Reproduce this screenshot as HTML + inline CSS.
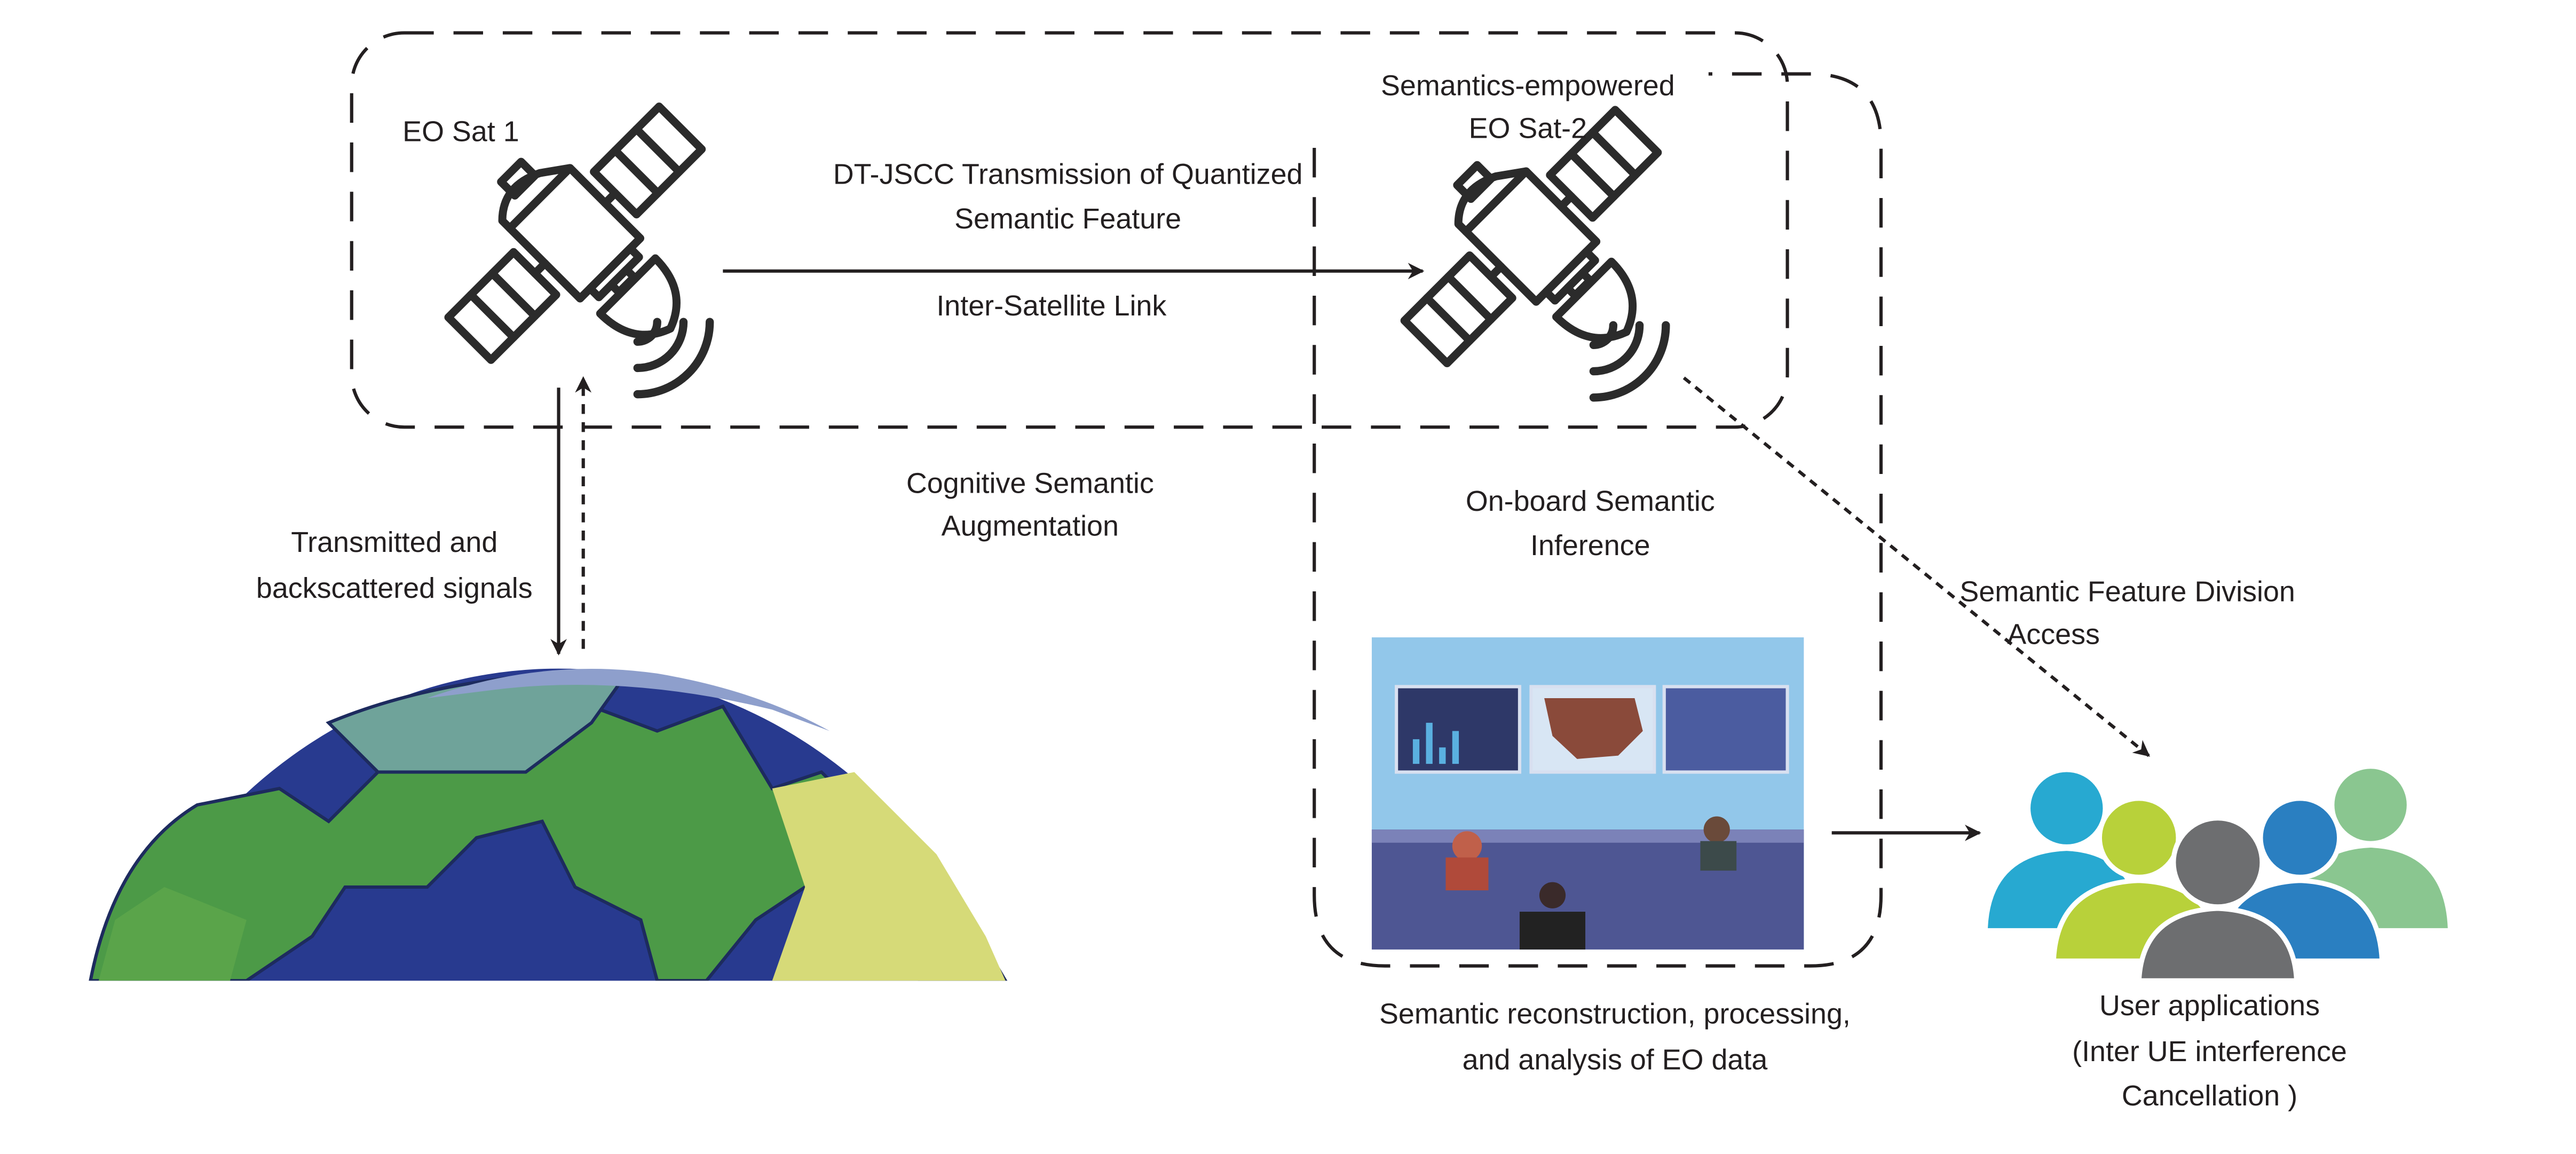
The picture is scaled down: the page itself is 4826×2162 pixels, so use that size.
<!DOCTYPE html>
<html><head><meta charset="utf-8"><style>
html,body{margin:0;padding:0;background:#fff;width:4826px;height:2162px;overflow:hidden;}
svg{display:block;}
text{font-family:"Liberation Sans",Arial,sans-serif;font-size:17.5px;fill:#231f20;}
</style></head><body>
<svg width="4826" height="2162" viewBox="0 0 1568 702.5" xmlns="http://www.w3.org/2000/svg">
<defs>
<marker id="ah" viewBox="0 0 10 10" refX="9" refY="5" markerWidth="10" markerHeight="10" markerUnits="userSpaceOnUse" orient="auto"><path d="M0,0 L10,5 L0,10 L3,5 z" fill="#231f20"/></marker>
<g id="sat" fill="none" stroke="#2b2b2b" stroke-width="4.5" stroke-linejoin="round" stroke-linecap="round">
 <rect x="-24" y="-28" width="48" height="56"/>
 <line x1="24" y1="0" x2="32" y2="0"/><line x1="-24" y1="0" x2="-32" y2="0"/>
 <rect x="32" y="-17" width="52" height="34"/><line x1="49" y1="-17" x2="49" y2="17"/><line x1="66" y1="-17" x2="66" y2="17"/>
 <rect x="-84" y="-17" width="52" height="34"/><line x1="-49" y1="-17" x2="-49" y2="17"/><line x1="-66" y1="-17" x2="-66" y2="17"/>
 <path d="M-24,-28 L-24,-34 Q-10,-48 10,-38 L24,-28"/>
 <rect x="-9" y="-50" width="16" height="11"/>
 <rect x="-16" y="28" width="32" height="7"/>
 <rect x="-6" y="35" width="12" height="6"/>
 <path d="M-22,42 L22,42 Q22,68 0,76 Q-22,68 -22,42 z"/>
</g>
<g id="waves" fill="none" stroke="#2b2b2b" stroke-width="5" stroke-linecap="round">
 <path d="M0,12 A12,12 0 0 0 12,0"/><path d="M0,28 A28,28 0 0 0 28,0"/><path d="M0,44 A44,44 0 0 0 44,0"/>
</g>
</defs>

<rect x="214" y="20" width="874" height="240" rx="32" fill="none" stroke="#231f20" stroke-width="2" stroke-dasharray="18,12"/>
<path d="M800,90 L800,545 Q800,588 843,588 L1102,588 Q1145,588 1145,545 L1145,88 Q1145,45 1102,45 L1040,45" fill="none" stroke="#231f20" stroke-width="2" stroke-dasharray="18,12"/>

<g transform="translate(350,142) rotate(-45) scale(1.08)"><use href="#sat"/></g>
<use href="#waves" transform="translate(388,196)"/>
<g transform="translate(932,144) rotate(-45) scale(1.08)"><use href="#sat"/></g>
<use href="#waves" transform="translate(970,198)"/>

<text x="245" y="86">EO Sat 1</text>
<text x="650" y="112" text-anchor="middle">DT-JSCC Transmission of Quantized</text>
<text x="650" y="139" text-anchor="middle">Semantic Feature</text>
<text x="640" y="192" text-anchor="middle">Inter-Satellite Link</text>
<text x="930" y="58" text-anchor="middle">Semantics-empowered</text>
<text x="930" y="84" text-anchor="middle">EO Sat-2</text>
<text x="240" y="336" text-anchor="middle">Transmitted and</text>
<text x="240" y="364" text-anchor="middle">backscattered signals</text>
<text x="627" y="300" text-anchor="middle">Cognitive Semantic</text>
<text x="627" y="326" text-anchor="middle">Augmentation</text>
<text x="968" y="311" text-anchor="middle">On-board Semantic</text>
<text x="968" y="338" text-anchor="middle">Inference</text>
<text x="1295" y="366" text-anchor="middle">Semantic Feature Division</text>
<text x="1250" y="392" text-anchor="middle">Access</text>
<text x="983" y="623" text-anchor="middle">Semantic reconstruction, processing,</text>
<text x="983" y="651" text-anchor="middle">and analysis of EO data</text>
<text x="1345" y="618" text-anchor="middle">User applications</text>
<text x="1345" y="646" text-anchor="middle">(Inter UE interference</text>
<text x="1345" y="673" text-anchor="middle">Cancellation )</text>

<line x1="440" y1="165" x2="866" y2="165" stroke="#231f20" stroke-width="2" marker-end="url(#ah)"/>
<line x1="340" y1="236" x2="340" y2="398" stroke="#231f20" stroke-width="2" marker-end="url(#ah)"/>
<line x1="355" y1="395" x2="355" y2="230" stroke="#231f20" stroke-width="2" stroke-dasharray="6,5" marker-end="url(#ah)"/>
<line x1="1025" y1="230" x2="1308" y2="460" stroke="#231f20" stroke-width="2" stroke-dasharray="5,4" marker-end="url(#ah)"/>
<line x1="1115" y1="507" x2="1205" y2="507" stroke="#231f20" stroke-width="2" marker-end="url(#ah)"/>

<clipPath id="ec"><rect x="40" y="380" width="600" height="217"/></clipPath>
<g clip-path="url(#ec)">
 <ellipse cx="340" cy="722" rx="292" ry="315" fill="#283a8f"/>
 <path d="M55,597 Q70,520 120,490 L170,480 L200,500 L230,470 L270,470 L300,440 L360,430 L400,445 L440,430 L470,480 L500,470 L530,500 L560,520 L590,560 L612,597 L560,597 L530,560 L490,540 L460,560 L430,597 L400,597 L390,560 L350,540 L330,500 L290,510 L260,540 L210,540 L190,570 L150,597 Z" fill="#4c9a47" stroke="#1d2b5e" stroke-width="2"/>
 <path d="M200,440 Q260,415 340,410 L380,412 L360,440 L320,470 L270,470 L230,470 Z" fill="#6fa39a" stroke="#1d2b5e" stroke-width="2"/>
 <path d="M470,480 L520,470 L570,520 L600,570 L612,597 L470,597 L490,540 Z" fill="#d6da78"/>
 <path d="M260,425 Q330,400 400,410 Q460,420 505,445 L470,432 Q380,410 300,420 Z" fill="#8e9fcc"/>
 <path d="M60,597 L140,597 L150,560 L100,540 L70,560 Z" fill="#5aa44a"/>
</g>

<rect x="835" y="388" width="263" height="190" fill="#92c7ea"/>
<rect x="850" y="418" width="75" height="52" fill="#2e3868" stroke="#d8e0f0" stroke-width="2"/>
<rect x="932" y="418" width="75" height="52" fill="#d8e6f4" stroke="#d8e0f0" stroke-width="2"/>
<path d="M940,425 L995,425 L1000,445 L985,460 L960,462 L945,448 Z" fill="#8a4a3a"/>
<rect x="1013" y="418" width="75" height="52" fill="#4b5ca0" stroke="#d8e0f0" stroke-width="2"/>
<g fill="#5ab0e0"><rect x="860" y="450" width="4" height="15"/><rect x="868" y="440" width="4" height="25"/><rect x="876" y="455" width="4" height="10"/><rect x="884" y="445" width="4" height="20"/></g>
<rect x="835" y="505" width="263" height="73" fill="#4e5693"/>
<rect x="835" y="505" width="263" height="8" fill="#7b82b8"/>
<circle cx="893" cy="515" r="9" fill="#c0604a"/><rect x="880" y="522" width="26" height="20" fill="#b04a3a"/>
<circle cx="1045" cy="505" r="8" fill="#6a4a3a"/><rect x="1035" y="512" width="22" height="18" fill="#3c4a4a"/>
<circle cx="945" cy="545" r="8" fill="#3a2a2a"/><rect x="925" y="555" width="40" height="23" fill="#222"/>

<g>
 <circle cx="1258" cy="492" r="22" fill="#27a9d1"/><path d="M1210,565 Q1212,520 1258,518 Q1300,520 1302,565 Z" fill="#27a9d1"/>
 <circle cx="1443" cy="490" r="22" fill="#8ac690"/><path d="M1395,565 Q1398,518 1443,516 Q1488,518 1490,565 Z" fill="#8ac690"/>
 <circle cx="1302" cy="510" r="24" fill="#b8d13a" stroke="#fff" stroke-width="3"/><path d="M1250,585 Q1252,538 1302,536 Q1350,538 1352,585 Z" fill="#b8d13a" stroke="#fff" stroke-width="3"/>
 <circle cx="1400" cy="510" r="24" fill="#2a7fc1" stroke="#fff" stroke-width="3"/><path d="M1350,585 Q1352,538 1400,536 Q1448,538 1450,585 Z" fill="#2a7fc1" stroke="#fff" stroke-width="3"/>
 <circle cx="1350" cy="525" r="27" fill="#6d6e70" stroke="#fff" stroke-width="3"/><path d="M1302,597 Q1304,555 1350,553 Q1396,555 1398,597 Z" fill="#6d6e70" stroke="#fff" stroke-width="3"/>
</g>
</svg>
</body></html>
